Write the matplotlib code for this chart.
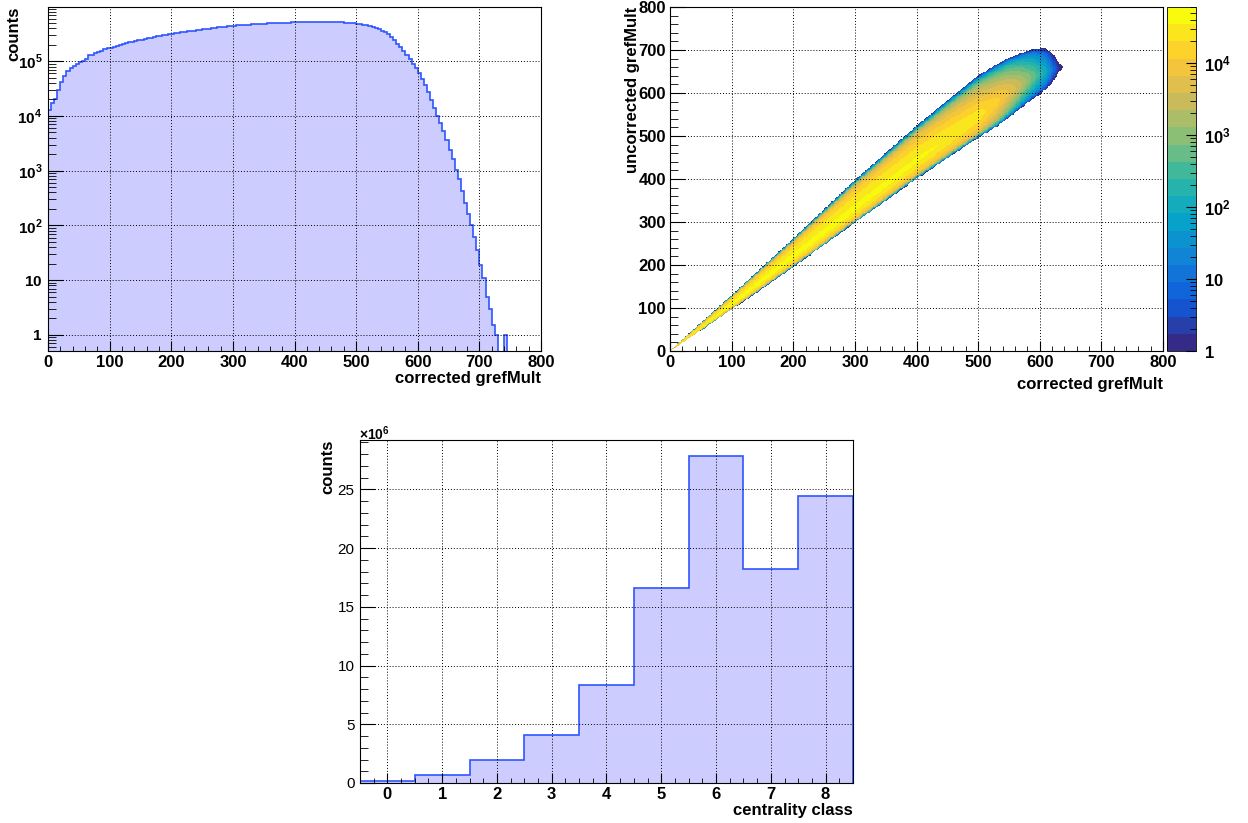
import numpy as np
import matplotlib
matplotlib.use("Agg")
import matplotlib.pyplot as plt
from matplotlib.colors import LinearSegmentedColormap, ListedColormap, LogNorm
from matplotlib.ticker import MultipleLocator, FixedLocator, FuncFormatter, NullFormatter, LogLocator

plt.rcParams["font.family"] = ["Liberation Sans", "DejaVu Sans"]
plt.rcParams["font.weight"] = "bold"
plt.rcParams["mathtext.fontset"] = "custom"
plt.rcParams["mathtext.rm"] = "Liberation Sans"
plt.rcParams["mathtext.bf"] = "Liberation Sans:bold"
plt.rcParams["mathtext.sf"] = "Liberation Sans"

# ---- data ----
# corrected gRefMult, counts per unit of gRefMult, bins of width 5 starting at 0
gref_bin_width = 5
gref_counts = [
    1.3e4, 1.7e4, 2.0e4, 3.0e4, 4.2e4, 5.4e4, 6.5e4, 7.4e4, 8.2e4, 8.9e4,      # 0-45
    9.6e4, 1.02e5, 1.08e5, 1.3e5, 1.32e5, 1.4e5, 1.48e5, 1.56e5, 1.64e5, 1.72e5,  # 50-95
    1.78e5, 1.85e5, 1.92e5, 2.0e5, 2.07e5, 2.13e5, 2.2e5, 2.27e5, 2.35e5, 2.42e5,  # 100-145
    2.48e5, 2.55e5, 2.62e5, 2.7e5, 2.77e5, 2.84e5, 2.9e5, 2.97e5, 3.04e5, 3.1e5,   # 150-195
    3.17e5, 3.24e5, 3.3e5, 3.36e5, 3.43e5, 3.5e5, 3.56e5, 3.62e5, 3.7e5, 3.76e5,   # 200-245
    3.83e5, 3.9e5, 3.96e5, 4.02e5, 4.08e5, 4.14e5, 4.2e5, 4.26e5, 4.32e5, 4.38e5,  # 250-295
    4.45e5, 4.6e5, 4.52e5, 4.56e5, 4.6e5, 4.65e5, 4.7e5, 4.74e5, 4.78e5, 4.82e5,   # 300-345
    4.86e5, 4.9e5, 4.93e5, 4.96e5, 4.99e5, 5.02e5, 5.05e5, 5.08e5, 5.1e5, 5.12e5,  # 350-395
    5.14e5, 5.15e5, 5.16e5, 5.17e5, 5.18e5, 5.19e5, 5.19e5, 5.2e5, 5.2e5, 5.2e5,   # 400-445
    5.2e5, 5.19e5, 5.18e5, 5.17e5, 5.15e5, 5.12e5, 5.08e5, 5.04e5, 4.99e5, 4.93e5, # 450-495
    4.86e5, 4.78e5, 4.68e5, 4.56e5, 4.42e5, 4.25e5, 4.05e5, 3.82e5, 3.6e5, 3.4e5,  # 500-545
    3.1e5, 2.75e5, 2.4e5, 2.1e5, 1.8e5, 1.52e5, 1.28e5, 1.08e5, 9.0e4, 7.5e4,      # 550-595
    6.2e4, 4.8e4, 3.7e4, 2.7e4, 1.95e4, 1.4e4, 1.0e4, 7.5e3, 5.2e3, 3.6e3,         # 600-645
    2.4e3, 1.6e3, 1.05e3, 690, 420, 260, 160, 100, 62, 35,                         # 650-695
    19, 11, 5, 3, 1.5, 1, 0, 0, 1, 0,                                              # 700-745
]

# uncorrected vs corrected gRefMult: band at a few columns
band_x = [0, 20, 100, 200, 300, 400, 450, 500, 530, 550, 570, 590, 610, 630, 650]
band_low = [0, 19, 96, 195, 298, 400, 448, 495, 520, 540, 560, 580, 598, 615, 628]
band_ridge = [0, 21, 108, 220, 330, 442, 495, 545, 578, 600, 620, 638, 650, 658, 664]
band_high = [0, 27, 130, 262, 398, 525, 585, 645, 672, 688, 700, 712, 716, 712, 705]
band_peak = [1e4, 3e4, 4.2e4, 4.2e4, 4e4, 3.8e4, 3.3e4, 2.6e4, 1.4e4, 7e3, 2.5e3, 6e2, 1e2, 2, 0.3]
fall_low = [2.2, 2.2, 2.2, 2.2, 2.2, 2.2, 2.2, 2.2, 3.0, 4.0, 5.0, 5.0, 5.0, 5.0, 5.0]
fall_high = [2.2, 2.2, 2.2, 2.2, 2.2, 2.8, 3.5, 4.5, 5.0, 5.0, 5.0, 5.0, 5.0, 5.0, 5.0]
z_max = 6e4

centrality_class = [0, 1, 2, 3, 4, 5, 6, 7, 8]
centrality_counts = [0.17e6, 0.65e6, 1.96e6, 4.11e6, 8.36e6, 16.58e6, 27.8e6, 18.2e6, 24.4e6]

# ROOT kBird palette
bird_r = [0.2082, 0.0592, 0.0780, 0.0232, 0.1802, 0.5301, 0.8186, 0.9956, 0.9764]
bird_g = [0.1664, 0.3599, 0.5041, 0.6419, 0.7178, 0.7492, 0.7328, 0.7862, 0.9832]
bird_b = [0.5293, 0.8684, 0.8385, 0.7914, 0.6425, 0.4662, 0.3499, 0.1968, 0.0539]

FILL = "#ccccff"
LINE = "#2f55ff"

W, H = 1248, 823
fig = plt.figure(figsize=(W / 100, H / 100), dpi=100)


def box(l, t, r, b):
    return [l / W, 1 - b / H, (r - l) / W, (b - t) / H]


def fx(x):
    return x / W


def fy(y):
    return 1 - y / H


def root_grid(ax):
    ax.grid(True, which="major", color="black", linestyle=(0, (1, 2)), linewidth=0.7)
    ax.set_axisbelow(False)


def pow10(v, pos, bold=False):
    if v <= 0:
        return ""
    e = int(round(np.log10(v)))
    if abs(v - 10 ** e) > 1e-6 * v:
        return ""
    if e == 0:
        s = "1"
    elif e == 1:
        s = "10"
    else:
        s = "10^{%d}" % e
    return r"$\mathbf{%s}$" % s if bold else r"$%s$" % s


# ---- panel 1: corrected gRefMult ----
ax1 = fig.add_axes(box(48, 7, 541, 351))
edges = np.arange(len(gref_counts) + 1) * gref_bin_width
ax1.set_yscale("log", nonpositive="clip")
ax1.stairs(gref_counts, edges, baseline=0.1, fill=True, color=FILL, linewidth=0)
ax1.stairs(gref_counts, edges, baseline=0.1, color=LINE, linewidth=1.2)
ax1.set_xlim(0, 800)
ax1.set_ylim(0.506, 9.8e5)
ax1.xaxis.set_major_locator(MultipleLocator(100))
ax1.xaxis.set_minor_locator(MultipleLocator(20))
ax1.yaxis.set_major_locator(LogLocator(base=10, numticks=20))
ax1.yaxis.set_minor_locator(LogLocator(base=10, subs=np.arange(2, 10), numticks=20))
ax1.yaxis.set_major_formatter(FuncFormatter(pow10))
ax1.yaxis.set_minor_formatter(NullFormatter())
ax1.tick_params(axis="x", which="major", length=7, labelsize=12, pad=3)
ax1.tick_params(axis="x", which="minor", length=3.5)
ax1.tick_params(axis="y", which="major", length=11, labelsize=11, pad=4)
ax1.tick_params(axis="y", which="minor", length=5.5)
ax1.tick_params(which="both", direction="in", top=False, right=False)
root_grid(ax1)
fig.text(fx(541), fy(378), "corrected grefMult", ha="right", va="center", fontsize=12, fontweight="bold")
fig.text(fx(14), fy(7), "counts", ha="center", va="top", rotation=90, fontsize=12, fontweight="bold")

# ---- panel 2: uncorrected vs corrected ----
ax2 = fig.add_axes(box(670, 7, 1163, 351))
bin2 = 2
xc = np.arange(bin2 / 2, 800, bin2)
yc = np.arange(bin2 / 2, 800, bin2)
low = np.interp(xc, band_x, band_low)
ridge = np.interp(xc, band_x, band_ridge)
high = np.interp(xc, band_x, band_high)
a_lo = np.interp(xc, band_x, fall_low)
a_hi = np.interp(xc, band_x, fall_high)
peak = np.exp(np.interp(xc, band_x, np.log(band_peak), right=-50))
d = yc[:, None] - ridge[None, :]
below = d < 0
t = np.where(below,
             -d / np.maximum(ridge - low, 1.0)[None, :],
             d / np.maximum(high - ridge, 1.0)[None, :])
t = np.minimum(t, 3)
a = np.where(below, a_lo[None, :], a_hi[None, :])
z = peak[None, :] * np.exp(-a * t ** 1.5 - 9 * t ** 10)
z = np.ma.masked_less(z, 1.0)

bird = LinearSegmentedColormap.from_list(
    "bird", list(zip(np.linspace(0, 1, 9), zip(bird_r, bird_g, bird_b))))
pal = ListedColormap(bird(np.linspace(0, 1, 20)))
pal.set_bad((1, 1, 1, 0))
norm = LogNorm(vmin=1, vmax=z_max)
im = ax2.imshow(z, origin="lower", extent=[0, 800, 0, 800], aspect="auto",
                cmap=pal, norm=norm, interpolation="nearest")
ax2.set_xlim(0, 800)
ax2.set_ylim(0, 800)
ax2.xaxis.set_major_locator(MultipleLocator(100))
ax2.xaxis.set_minor_locator(MultipleLocator(20))
ax2.yaxis.set_major_locator(MultipleLocator(100))
ax2.yaxis.set_minor_locator(MultipleLocator(20))
ax2.tick_params(axis="x", which="major", length=7, labelsize=12, pad=3)
ax2.tick_params(axis="x", which="minor", length=3.5)
ax2.tick_params(axis="y", which="major", length=11, labelsize=12, pad=3)
ax2.tick_params(axis="y", which="minor", length=5.5)
ax2.tick_params(which="both", direction="in", top=False, right=False)
root_grid(ax2)
fig.text(fx(1163), fy(384), "corrected grefMult", ha="right", va="center", fontsize=12, fontweight="bold")
fig.text(fx(632), fy(7), "uncorrected grefMult", ha="center", va="top", rotation=90, fontsize=12, fontweight="bold")

cax = fig.add_axes(box(1167, 7, 1196, 351))
cb = fig.colorbar(im, cax=cax)
cb.outline.set_linewidth(0.6)
cax.yaxis.set_major_locator(LogLocator(base=10, numticks=10))
cax.yaxis.set_minor_locator(LogLocator(base=10, subs=np.arange(2, 10), numticks=10))
cax.yaxis.set_major_formatter(FuncFormatter(lambda v, p: pow10(v, p, bold=True)))
cax.yaxis.set_minor_formatter(NullFormatter())
cax.tick_params(which="both", direction="in", right=True, left=False, labelsize=12, pad=6)
cax.tick_params(which="major", length=7)
cax.tick_params(which="minor", length=4)

# ---- panel 3: centrality class ----
ax3 = fig.add_axes(box(360, 440, 853, 783))
cedges = np.append(np.array(centrality_class) - 0.5, centrality_class[-1] + 0.5)
ax3.stairs(centrality_counts, cedges, baseline=0, fill=True, color=FILL, linewidth=0)
ax3.stairs(centrality_counts, cedges, baseline=0, color=LINE, linewidth=1.2)
ax3.set_xlim(-0.5, 8.5)
ax3.set_ylim(0, 29.2e6)
ax3.xaxis.set_major_locator(FixedLocator(centrality_class))
ax3.xaxis.set_minor_locator(MultipleLocator(0.25))
ax3.yaxis.set_major_locator(MultipleLocator(5e6))
ax3.yaxis.set_minor_locator(MultipleLocator(1e6))
ax3.yaxis.set_major_formatter(FuncFormatter(lambda v, p: "%d" % round(v / 1e6)))
ax3.tick_params(axis="x", which="major", length=7, labelsize=12, pad=3)
ax3.tick_params(axis="x", which="minor", length=3.5)
ax3.tick_params(axis="y", which="major", length=11, labelsize=11, pad=4)
ax3.tick_params(axis="y", which="minor", length=5.5)
ax3.tick_params(which="both", direction="in", top=False, right=False)
root_grid(ax3)
fig.text(fx(853), fy(810), "centrality class", ha="right", va="center", fontsize=12, fontweight="bold")
fig.text(fx(328), fy(440), "counts", ha="center", va="top", rotation=90, fontsize=12, fontweight="bold")
fig.text(fx(359), fy(434), r"$\mathsf{\times10^{6}}$", ha="left", va="center", fontsize=10)

for ax in (ax1, ax2, ax3):
    for sp in ax.spines.values():
        sp.set_linewidth(0.8)
for ax in (ax1, ax3):
    for lab in ax.get_yticklabels():
        lab.set_fontweight("normal")

fig.savefig("out.png", dpi=100, facecolor="white")
